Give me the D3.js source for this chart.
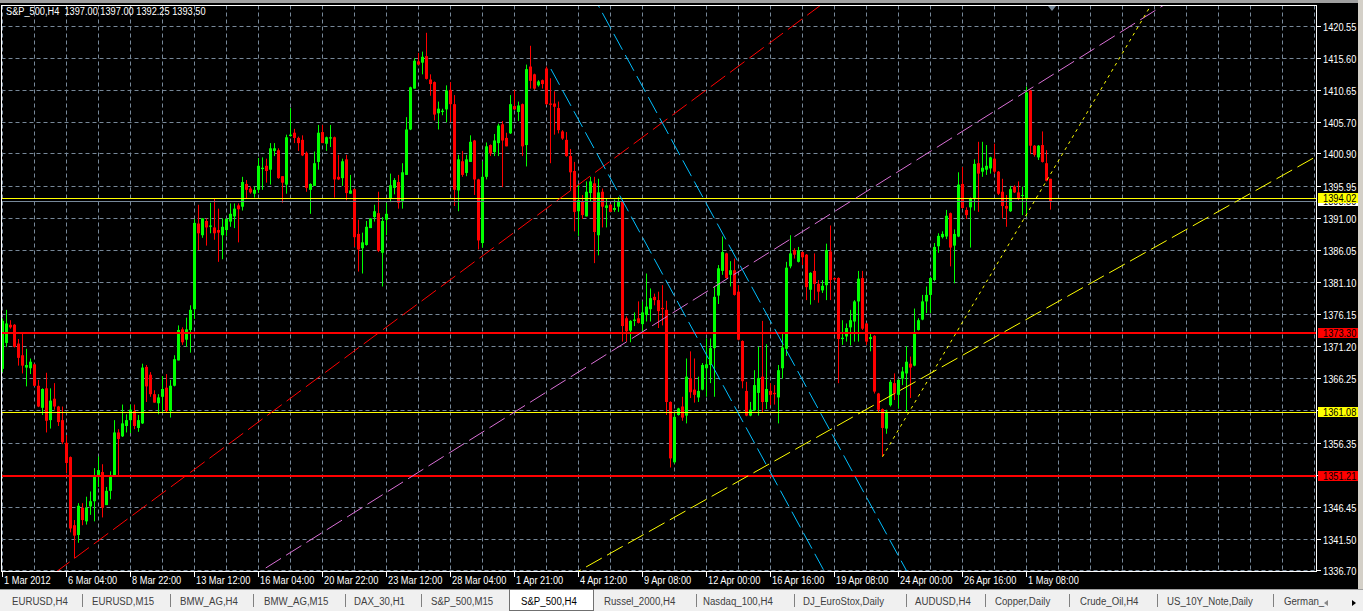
<!DOCTYPE html>
<html><head><meta charset="utf-8">
<script src="https://cdn.jsdelivr.net/npm/d3@7"></script>
<style>html,body{margin:0;padding:0;background:#000;overflow:hidden}svg{display:block}</style>
</head><body><svg id="c" width="1363" height="611"></svg>
<script>
// ---------- DATA ----------
const title = "S&P_500,H4  1397.00 1397.00 1392.25 1393.50";
const openP = [
1367.7,1371.7,1374.5,1374.5,1371.6,1369.8,1367.9,1367.8,1368.4,1365.1,
1361.7,1364.7,1359.8,1363.1,1361.9,1359.8,1356.3,1354.1,1343.6,1342.1,
1346.3,1344.2,1346.5,1347.3,1351.1,1351.8,1346.7,1348.9,1351.3,1357.9,
1357.3,1358.9,1359.8,1361.2,1358.6,1359.3,1368.0,1366.8,1363.8,1362.4,
1363.4,1364.8,1361.2,1365.1,1369.0,1373.8,1372.2,1373.7,1376.9,1390.1,
1388.3,1390.5,1389.6,1389.5,1389.1,1388.3,1389.1,1390.4,1391.2,1392.9,
1392.7,1396.2,1395.5,1394.7,1395.3,1398.5,1399.0,1398.4,1401.3,1401.4,
1397.4,1396.1,1403.6,1404.1,1403.3,1403.0,1401.0,1395.3,1395.9,1399.6,
1404.2,1402.4,1403.2,1403.4,1397.3,1397.1,1400.0,1394.7,1395.4,1388.5,
1386.3,1386.8,1389.4,1391.1,1391.7,1385.6,1390.7,1394.0,1395.6,1396.5,
1393.6,1397.6,1404.6,1410.9,1415.1,1414.9,1415.9,1412.3,1411.9,1407.1,
1407.3,1407.7,1410.7,1408.5,1395.2,1399.7,1397.9,1399.6,1402.9,1396.9,
1387.1,1397.3,1402.2,1401.1,1402.5,1405.4,1403.3,1404.0,1408.2,1407.3,
1408.5,1402.2,1414.3,1413.1,1411.4,1412.2,1414.0,1408.6,1408.6,1407.9,
1404.3,1403.0,1400.5,1398.2,1392.0,1393.5,1391.2,1394.8,1396.3,1388.3,
1395.0,1392.5,1393.0,1392.2,1392.7,1393.5,1375.5,1373.6,1375.1,1375.5,
1374.6,1376.0,1376.9,1378.8,1378.3,1377.1,1376.8,1362.6,1353.3,1360.6,
1361.9,1360.5,1366.2,1364.5,1363.3,1364.5,1367.8,1368.3,1370.9,1379.0,
1382.8,1385.5,1382.2,1382.9,1379.6,1372.0,1364.3,1360.5,1361.3,1364.0,
1366.5,1362.6,1364.3,1364.0,1363.3,1367.8,1370.8,1383.5,1386.0,1384.2,
1385.7,1385.3,1379.9,1382.8,1380.8,1379.8,1380.6,1385.8,1381.7,1381.7,
1372.3,1372.7,1374.1,1375.0,1378.1,1381.7,1374.7,1372.3,1372.8,1363.9,
1361.5,1358.5,1362.1,1365.5,1363.7,1366.2,1367.0,1368.5,1368.2,1373.7,
1375.3,1378.1,1379.1,1381.4,1386.6,1388.0,1388.1,1391.7,1386.7,1388.1,
1396.2,1392.2,1392.6,1394.0,1399.4,1398.1,1398.4,1398.6,1400.1,1398.1,
1395.0,1392.8,1392.0,1395.8,1394.9,1394.4,1394.0,1410.6,1402.1,1400.3,
1402.2,1399.4,1397.0];
const highP = [
1375.5,1376.8,1375.2,1374.6,1372.3,1373.1,1370.8,1369.3,1368.5,1366.0,
1364.7,1367.1,1364.7,1365.5,1362.0,1361.9,1357.5,1354.2,1344.4,1347.0,
1347.0,1348.0,1348.8,1352.4,1354.2,1353.0,1349.5,1351.9,1359.8,1358.4,
1362.2,1360.7,1362.2,1362.2,1360.6,1368.5,1368.3,1367.2,1364.4,1363.8,
1366.6,1366.9,1366.0,1369.8,1374.4,1374.1,1375.6,1377.5,1390.8,1393.0,
1390.9,1390.9,1393.3,1393.9,1392.4,1390.9,1390.9,1393.2,1393.2,1393.2,
1397.3,1396.8,1395.8,1395.8,1400.2,1400.3,1400.1,1402.5,1402.5,1401.7,
1397.4,1403.8,1407.9,1404.7,1403.5,1403.7,1401.2,1396.3,1401.2,1405.3,
1405.3,1403.5,1405.3,1403.5,1400.7,1400.1,1400.7,1397.6,1395.5,1390.7,
1388.7,1390.5,1390.9,1393.0,1395.0,1391.1,1393.3,1397.8,1397.1,1397.6,
1399.4,1406.5,1411.2,1415.6,1416.4,1416.6,1419.5,1413.1,1412.0,1408.9,
1407.8,1411.4,1411.9,1409.9,1400.7,1401.3,1400.7,1403.7,1403.0,1397.0,
1399.7,1402.6,1402.3,1403.9,1405.5,1405.9,1404.1,1409.9,1410.7,1408.9,
1408.6,1414.6,1417.5,1413.2,1412.2,1412.3,1414.3,1412.5,1410.5,1408.9,
1404.5,1404.2,1401.6,1399.6,1396.1,1394.5,1396.6,1397.3,1397.3,1397.0,
1395.5,1394.0,1393.1,1393.8,1394.2,1393.6,1375.8,1375.2,1376.4,1378.1,
1378.1,1382.4,1380.1,1379.3,1379.6,1380.6,1378.2,1362.7,1360.9,1361.7,
1363.4,1369.3,1370.4,1369.3,1366.5,1368.6,1372.4,1372.4,1380.4,1383.7,
1388.1,1385.6,1384.3,1384.7,1380.6,1372.1,1365.7,1362.6,1367.5,1371.1,
1375.1,1371.5,1365.5,1365.2,1368.3,1373.3,1384.2,1388.3,1386.3,1386.5,
1385.8,1385.4,1382.6,1385.5,1381.4,1381.4,1387.0,1389.8,1381.8,1381.8,
1375.2,1374.7,1376.8,1378.3,1382.8,1382.8,1374.8,1373.2,1372.9,1364.0,
1361.6,1361.4,1366.0,1367.0,1366.1,1368.0,1371.2,1369.6,1377.0,1375.5,
1379.1,1380.4,1381.9,1387.1,1388.6,1388.9,1392.2,1391.8,1389.2,1398.0,
1398.8,1392.6,1394.1,1400.0,1402.7,1402.7,1402.2,1400.4,1402.4,1398.2,
1397.0,1394.5,1395.9,1396.0,1396.6,1395.8,1411.2,1410.7,1402.2,1402.2,
1404.3,1401.4,1397.0];
const lowP = [
1367.2,1371.1,1373.9,1371.0,1368.2,1367.0,1365.0,1366.9,1365.0,1361.8,
1360.6,1357.9,1358.5,1361.4,1358.9,1356.1,1351.6,1342.5,1338.5,1340.9,
1343.6,1343.7,1345.2,1344.2,1349.5,1344.8,1346.7,1347.6,1351.3,1351.3,
1357.2,1357.9,1357.8,1358.4,1358.0,1359.2,1362.6,1363.4,1362.5,1360.7,
1361.1,1361.0,1360.2,1365.0,1369.0,1371.4,1371.1,1370.2,1375.4,1386.0,
1387.9,1386.7,1388.6,1387.6,1384.2,1384.6,1388.2,1389.6,1389.4,1387.2,
1392.1,1394.0,1394.7,1394.1,1394.8,1395.3,1396.4,1396.1,1400.5,1397.0,
1393.3,1394.7,1403.5,1402.5,1401.3,1400.5,1395.0,1391.6,1395.9,1398.4,
1402.5,1401.3,1401.9,1394.1,1396.8,1395.9,1393.7,1394.7,1386.5,1382.7,
1382.4,1386.7,1389.4,1390.4,1385.7,1380.4,1388.3,1393.4,1394.6,1392.4,
1392.4,1397.6,1404.5,1410.9,1414.5,1413.1,1412.3,1409.8,1406.0,1404.6,
1406.8,1405.7,1405.7,1392.8,1392.0,1397.3,1397.4,1399.6,1394.5,1386.1,
1386.4,1396.9,1400.5,1400.5,1400.5,1395.7,1402.0,1403.9,1407.6,1405.9,
1400.5,1398.9,1410.9,1410.7,1411.2,1410.9,1408.4,1399.4,1403.8,1404.0,
1403.0,1400.4,1395.3,1388.9,1388.2,1390.8,1391.2,1393.5,1384.0,1385.2,
1389.5,1389.5,1391.9,1391.9,1391.9,1371.9,1371.9,1371.8,1374.3,1374.7,
1373.4,1375.0,1375.0,1377.5,1374.0,1374.4,1360.6,1352.5,1353.1,1360.5,
1359.7,1359.3,1363.2,1362.5,1362.6,1364.4,1363.4,1365.5,1363.4,1377.7,
1382.2,1381.6,1380.4,1379.0,1372.1,1364.7,1360.4,1360.4,1361.2,1360.5,
1360.9,1361.5,1362.1,1362.2,1359.3,1366.2,1369.7,1383.2,1384.7,1384.1,
1383.7,1378.3,1377.6,1378.3,1377.9,1379.4,1378.3,1378.3,1381.3,1365.5,
1371.4,1371.9,1371.3,1371.9,1371.9,1373.7,1371.4,1370.4,1363.9,1360.9,
1354.2,1357.7,1361.9,1362.9,1361.6,1365.2,1361.1,1363.2,1368.1,1373.6,
1375.2,1376.3,1376.3,1381.2,1385.6,1387.8,1387.7,1383.5,1380.9,1388.0,
1392.4,1390.8,1386.4,1392.1,1391.9,1397.3,1397.6,1397.8,1397.8,1394.5,
1390.9,1389.6,1391.9,1394.8,1393.7,1391.4,1391.2,1400.8,1400.4,1399.9,
1399.5,1396.6,1392.25];
const closeP = [
1375.1,1374.7,1374.1,1371.1,1369.4,1368.2,1368.3,1368.8,1365.1,1361.9,
1364.6,1359.7,1362.8,1361.9,1359.5,1356.4,1353.2,1343.1,1342.0,1346.6,
1344.4,1346.3,1347.3,1351.1,1352.1,1346.3,1348.9,1351.2,1357.9,1356.9,
1359.3,1359.8,1361.4,1358.9,1359.8,1367.9,1365.0,1363.8,1362.5,1363.3,
1364.6,1361.2,1365.1,1369.2,1373.7,1371.8,1373.8,1376.8,1390.2,1388.6,
1390.9,1389.5,1389.8,1388.6,1388.7,1389.6,1390.8,1391.6,1392.4,1392.3,
1396.5,1395.3,1394.9,1395.3,1399.0,1398.7,1398.2,1401.7,1401.7,1397.1,
1396.4,1403.4,1403.8,1403.3,1402.5,1400.6,1395.6,1396.2,1399.4,1404.1,
1402.5,1403.4,1403.4,1396.9,1396.9,1399.7,1394.8,1395.2,1388.0,1386.1,
1387.2,1389.6,1390.9,1392.0,1385.9,1390.5,1391.6,1396.0,1396.8,1393.3,
1398.0,1404.6,1411.1,1415.2,1414.6,1415.8,1412.4,1411.6,1406.9,1407.8,
1407.5,1410.6,1408.5,1395.3,1400.0,1397.6,1400.0,1402.7,1396.9,1387.5,
1397.3,1402.0,1400.9,1402.9,1405.2,1402.9,1402.0,1408.5,1407.7,1408.3,
1402.0,1413.9,1412.1,1410.9,1412.0,1411.6,1408.5,1408.4,1408.1,1404.5,
1403.2,1400.5,1398.0,1391.9,1393.7,1391.4,1395.0,1396.6,1388.8,1394.9,
1392.7,1392.9,1391.9,1392.5,1393.5,1374.3,1373.5,1375.1,1375.3,1374.8,
1376.4,1377.3,1378.6,1378.3,1376.6,1376.9,1362.6,1353.9,1360.3,1361.6,
1360.2,1366.5,1364.1,1363.7,1364.3,1368.3,1368.4,1370.9,1378.8,1383.2,
1385.7,1381.7,1382.9,1379.1,1372.2,1365.8,1360.5,1361.4,1365.2,1366.3,
1362.6,1364.6,1363.7,1363.8,1367.5,1371.0,1383.3,1385.5,1385.3,1386.0,
1384.9,1380.3,1382.5,1380.8,1379.6,1380.5,1386.0,1381.4,1381.5,1372.3,
1372.5,1374.0,1375.2,1378.1,1381.6,1373.9,1371.9,1372.6,1364.2,1361.4,
1358.6,1361.1,1365.7,1363.9,1366.0,1367.3,1368.8,1367.9,1373.2,1375.2,
1378.1,1379.1,1381.7,1386.5,1388.2,1388.5,1391.3,1386.4,1388.5,1396.1,
1392.5,1391.4,1394.0,1399.3,1397.8,1398.7,1399.0,1400.3,1398.1,1394.7,
1392.8,1392.4,1395.4,1394.9,1394.0,1394.5,1410.3,1402.1,1400.7,1402.1,
1399.6,1396.7,1393.5];

const priceTicks = [1420.55,1415.60,1410.65,1405.70,1400.90,1395.95,1391.00,1386.05,1381.10,
  1376.15,1371.20,1366.25,1361.30,1356.35,1351.40,1346.45,1341.50,1336.70];
const timeLabels = ["1 Mar 2012","6 Mar 04:00","8 Mar 22:00","13 Mar 12:00","16 Mar 04:00",
  "20 Mar 22:00","23 Mar 12:00","28 Mar 04:00","1 Apr 21:00","4 Apr 12:00","9 Apr 08:00",
  "12 Apr 00:00","16 Apr 16:00","19 Apr 08:00","24 Apr 00:00","26 Apr 16:00","1 May 08:00"];
const timeLabelBars = [0,16,32,48,64,80,96,112,128,144,160,176,192,208,224,240,256];

// horizontal price levels
const levelPrices = [1394.02, 1373.30, 1361.08, 1351.21];
const levelKinds  = ["yellow", "red", "yellow", "red"];
const bidPrice = 1393.50;

// trend lines: anchor (bar index, price) pairs
const trendBar1   = [18, 131.9, 137.1, 155.7, 198.2, 220.0];
const trendPrice1 = [1338.5, 1362.55, 1413.92, 1416.08, 1355.30, 1354.16];
const trendBar2   = [187.75, 260.2, 191.9, 198.2, 328.2, 275.4];
const trendPrice2 = [1416.08, 1412.13, 1351.85, 1368.03, 1400.36, 1411.61];
const trendRay    = [false, false, true, false, false, true];
const trendKind   = ["red", "violet", "cyan", "cyan", "yellowDash", "yellowDot"];

const tabNames = ["EURUSD,H4","EURUSD,M15","BMW_AG,H4","BMW_AG,M15","DAX_30,H1","S&P_500,M15",
  "S&P_500,H4","Russel_2000,H4","Nasdaq_100,H4","DJ_EuroStox,Daily","AUDUSD,H4","Copper,Daily",
  "Crude_Oil,H4","US_10Y_Note,Daily","German_"];
const activeTab = "S&P_500,H4";

// ---------- STYLE / LAYOUT ----------
const W = 1363, H = 611;
const plot = {l: 1.5, t: 5.5, r: 1316.5, b: 571.5};
const FONT = "'Liberation Sans',Arial,sans-serif";
const SX = 0.84; // horizontal condensing to mimic the terminal's narrow UI font
const styles = {
  red:       {stroke: "#ff0000", dash: "18,6", w: 1},
  violet:    {stroke: "#da70d6", dash: "18,6", w: 1},
  cyan:      {stroke: "#00bfff", dash: "18,6", w: 1},
  yellowDash:{stroke: "#ffff00", dash: "18,6", w: 1},
  yellowDot: {stroke: "#ffff00", dash: "3,4", w: 1}
};
const levelStyle = {yellow: {c: "#ffff00", w: 1}, red: {c: "#ff0000", w: 2}};

const svg = d3.select("#c");
svg.append("rect").attr("width", W).attr("height", H).attr("fill", "#000");

function txt(g, tx, ty, s, fill, size) {
  return g.append("text").attr("transform", `translate(${tx},${ty}) scale(${SX},1)`)
    .attr("font-family", FONT).attr("font-size", size || 11).attr("fill", fill)
    .attr("xml:space", "preserve").style("white-space", "pre").text(s);
}

const x = d3.scaleLinear().domain([0, 329]).range([2.5, 1318.5]);
const y = d3.scaleLinear().domain([1336.70, 1420.55]).range([570, 26]);

const defs = svg.append("defs");
defs.append("clipPath").attr("id", "clip")
  .append("rect").attr("x", 2).attr("y", 6).attr("width", 1314).attr("height", 565);

// grid
const grid = svg.append("g").attr("clip-path", "url(#clip)")
  .attr("stroke", "#778899").attr("stroke-width", 1).attr("stroke-dasharray", "4,3");
grid.selectAll("line.h").data(priceTicks).join("line")
  .attr("x1", plot.l).attr("x2", plot.r)
  .attr("y1", d => Math.round(y(d)) + 0.5).attr("y2", d => Math.round(y(d)) + 0.5);
grid.selectAll("line.v").data(d3.range(0, 330, 8)).join("line")
  .attr("x1", d => x(d)).attr("x2", d => x(d)).attr("y1", plot.t).attr("y2", plot.b);

// candles
const idx = d3.range(openP.length);
const cg = svg.append("g").attr("clip-path", "url(#clip)");
cg.selectAll("line.w").data(idx).join("line")
  .attr("x1", i => x(i)).attr("x2", i => x(i))
  .attr("y1", i => y(highP[i])).attr("y2", i => y(lowP[i]))
  .attr("stroke", i => closeP[i] >= openP[i] ? "#00ff00" : "#ff0000").attr("stroke-width", 1);
cg.selectAll("rect.b").data(idx).join("rect")
  .attr("x", i => x(i) - 1.5).attr("width", 3)
  .attr("y", i => y(Math.max(openP[i], closeP[i])))
  .attr("height", i => Math.max(1, Math.abs(y(openP[i]) - y(closeP[i]))))
  .attr("fill", i => closeP[i] >= openP[i] ? "#00ff00" : "#ff0000");

// objects layer
const og = svg.append("g").attr("clip-path", "url(#clip)");
og.append("line").attr("x1", plot.l).attr("x2", plot.r)
  .attr("y1", Math.round(y(bidPrice)) + 0.5).attr("y2", Math.round(y(bidPrice)) + 0.5)
  .attr("stroke", "#778899").attr("stroke-width", 1);
levelPrices.forEach((p, k) => {
  const s = levelStyle[levelKinds[k]];
  const yy = s.w === 1 ? Math.round(y(p)) + 0.5 : Math.round(y(p));
  og.append("line").attr("x1", plot.l).attr("x2", plot.r).attr("y1", yy).attr("y2", yy)
    .attr("stroke", s.c).attr("stroke-width", s.w);
});
trendBar1.forEach((b1, k) => {
  const X1 = x(b1), Y1 = y(trendPrice1[k]), X2 = x(trendBar2[k]), Y2 = y(trendPrice2[k]);
  const len = Math.hypot(X2 - X1, Y2 - Y1), ux = (X2 - X1) / len, uy = (Y2 - Y1) / len;
  const L = 3000;
  const sx = trendRay[k] ? X1 : X1 - ux * L, sy = trendRay[k] ? Y1 : Y1 - uy * L;
  const st = styles[trendKind[k]];
  og.append("line").attr("x1", sx).attr("y1", sy).attr("x2", X1 + ux * L).attr("y2", Y1 + uy * L)
    .attr("stroke", st.stroke).attr("stroke-width", st.w).attr("stroke-dasharray", st.dash);
});

// frame
svg.append("rect").attr("x", plot.l).attr("y", plot.t).attr("width", plot.r - plot.l)
  .attr("height", plot.b - plot.t).attr("fill", "none").attr("stroke", "#fff").attr("stroke-width", 1);

// price axis labels
const pa = svg.append("g");
priceTicks.forEach(p => {
  const yy = Math.round(y(p)) + 0.5;
  pa.append("line").attr("x1", 1317).attr("x2", 1321).attr("y1", yy).attr("y2", yy).attr("stroke", "#fff");
  txt(pa, 1323, yy + 4, p.toFixed(2), "#fff");
});
// bid tag (mostly hidden under the yellow tag in the reference)
const bidY = Math.round(y(bidPrice));
defs.append("clipPath").attr("id", "bidclip").append("rect")
  .attr("x", 1318).attr("y", bidY + 1.5).attr("width", 40).attr("height", 4);
const bidG = pa.append("g").attr("clip-path", "url(#bidclip)");
bidG.append("rect").attr("x", 1318).attr("y", bidY - 5).attr("width", 40).attr("height", 10).attr("fill", "#fff");
txt(bidG, 1323, bidY + 4, bidPrice.toFixed(2), "#000");
levelPrices.forEach((p, k) => {
  const yy = Math.round(y(p));
  pa.append("rect").attr("x", 1318).attr("y", yy - 5).attr("width", 40).attr("height", 10)
    .attr("fill", levelKinds[k] === "red" ? "#ff0000" : "#ffff00");
  txt(pa, 1323, yy + 4, p.toFixed(2), "#000");
});

// title
txt(svg, 6, 15, title, "#fff");

// shift marker
svg.append("path").attr("d", "M1048,6 L1056,6 L1052,11 Z").attr("fill", "#778899");

// time axis
const ta = svg.append("g");
timeLabelBars.forEach((b, k) => {
  const xx = Math.floor(x(b)) + 0.5;
  ta.append("line").attr("x1", xx).attr("x2", xx).attr("y1", 572).attr("y2", 577).attr("stroke", "#fff");
  txt(ta, xx + 1.5, 584, timeLabels[k], "#fff");
});

// window chrome
svg.append("rect").attr("x", 0).attr("y", 0).attr("width", W).attr("height", 3).attr("fill", "#a0a0a0");
svg.append("rect").attr("x", 1358).attr("y", 0).attr("width", 5).attr("height", 590).attr("fill", "#d4d0c8");

// tab bar
const tb = svg.append("g");
tb.append("rect").attr("x", 0).attr("y", 589).attr("width", W).attr("height", 22).attr("fill", "#f0f0f0");
tb.append("line").attr("x1", 0).attr("x2", W).attr("y1", 589.5).attr("y2", 589.5).attr("stroke", "#a0a0a0");
const tabX = d3.scaleOrdinal().domain(tabNames)
  .range([12,92,180,264,354,431,521,604,703,803,915,995,1080,1167,1284]);
const sepX = [82,170,253,345,421,696,794,906,985,1069,1157,1273];
tb.append("rect").attr("x", 509.5).attr("y", 589.5).attr("width", 84).attr("height", 21)
  .attr("fill", "#fff").attr("stroke", "#707070");
sepX.forEach(s => tb.append("line").attr("x1", s + 0.5).attr("x2", s + 0.5).attr("y1", 594).attr("y2", 607).attr("stroke", "#808080"));
tabNames.forEach(n => txt(tb, tabX(n), 605, n, n === activeTab ? "#000" : "#404040", 11.5));
tb.append("path").attr("d", "M1328,600 L1324,603 L1328,606 Z").attr("fill", "#888");
tb.append("path").attr("d", "M1352,600 L1356,603 L1352,606 Z").attr("fill", "#000");
</script></body></html>
